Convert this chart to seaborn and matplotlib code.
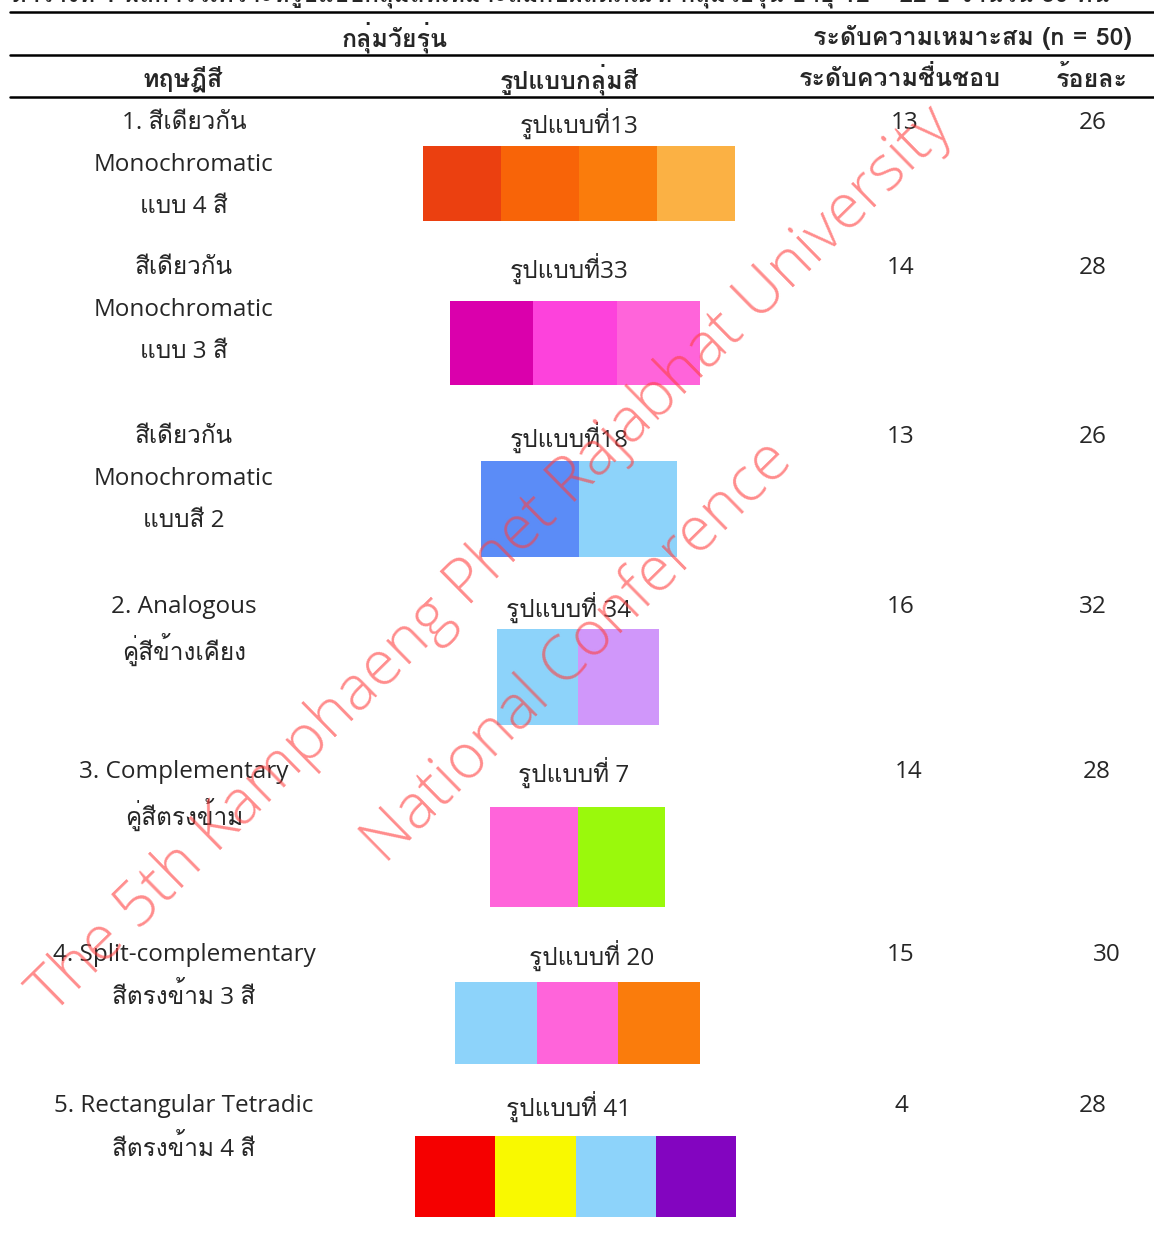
import numpy as np
import pandas as pd
import matplotlib
matplotlib.use("Agg")
import matplotlib.pyplot as plt
import seaborn as sns
from matplotlib import font_manager

# ข้อมูลตาราง
theory = [["1. สีเดียวกัน", "Monochromatic", "แบบ 4 สี"],
          ["สีเดียวกัน", "Monochromatic", "แบบ 3 สี"],
          ["สีเดียวกัน", "Monochromatic", "แบบสี 2"],
          ["2. Analogous", "คู่สีข้างเคียง"],
          ["3. Complementary", "คู่สีตรงข้าม"],
          ["4. Split-complementary", "สีตรงข้าม 3 สี"],
          ["5. Rectangular Tetradic", "สีตรงข้าม 4 สี"]]
pattern = ["รูปแบบที่13", "รูปแบบที่33", "รูปแบบที่18", "รูปแบบที่ 34",
           "รูปแบบที่ 7", "รูปแบบที่ 20", "รูปแบบที่ 41"]
liking = [13, 14, 13, 16, 14, 15, 4]
percent = [26, 28, 26, 32, 28, 30, 28]
swatches = [["#EB4010", "#F86408", "#FA7C0C", "#FBB144"],
            ["#DA00AC", "#FD42DC", "#FF64DA"],
            ["#5B8CF7", "#8DD3FA"],
            ["#8DD3FA", "#D097FA"],
            ["#FF64DA", "#9AF90C"],
            ["#8DD3FA", "#FF64DA", "#FA7C0C"],
            ["#F50000", "#F9F900", "#8DD3FA", "#8305C0"]]

# layout (pixels)
row_top = [123, 268, 437, 607, 772, 955, 1106]
pat_x = [579, 569, 569, 569, 574, 592, 569]
lik_x = [905, 901, 901, 901, 909, 901, 901]
pct_x = [1093, 1093, 1093, 1093, 1097, 1107, 1093]
box = [(423, 735, 146, 221), (450, 700, 301, 385), (481, 677, 461, 557),
       (497, 659, 629, 725), (490, 665, 807, 907), (455, 700, 982, 1064),
       (415, 736, 1136, 1217)]


def thai_family():
    try:
        from fontTools.ttLib import TTFont
    except Exception:
        return None
    for f in font_manager.fontManager.ttflist:
        try:
            tt = TTFont(f.fname, fontNumber=0, lazy=True)
            if 0x0E01 in tt.getBestCmap():
                return f.name
        except Exception:
            pass
    return None


sns.set_theme(style="white")
th = thai_family()
thai = [th] if th else []
plt.rcParams["font.family"] = thai + ["DejaVu Sans"]
body = ["Open Sans"] + thai + ["DejaVu Sans"]

fig = plt.figure(figsize=(11.54, 12.34), dpi=100)
ax = fig.add_axes([0, 0, 1, 1])
ax.set_xlim(0, 1154)
ax.set_ylim(1234, 0)
ax.axis("off")

fs = 17.5
# caption (cut at top, as in the source)
ax.text(560, -8, "ตารางที่ 1 ผลการวิเคราะห์รูปแบบกลุ่มสีที่เหมาะสมกับผลิตภัณฑ์ กลุ่มวัยรุ่น อายุ 12 – 22 ปี จำนวน 50 คน",
        ha="center", va="center", fontsize=fs, fontweight="bold")
for yy in [12, 55, 97]:
    ax.plot([10, 1154], [yy, yy], color="black", lw=1.8)

ax.text(395, 37, "กลุ่มวัยรุ่น", ha="center", va="center", fontsize=18, fontweight="bold")
ax.text(972, 37, "ระดับความเหมาะสม (n = 50)", ha="center", va="center", fontsize=18, fontweight="bold")
for x, s in zip([183, 569, 900, 1092], ["ทฤษฎีสี", "รูปแบบกลุ่มสี", "ระดับความชื่นชอบ", "ร้อยละ"]):
    ax.text(x, 79, s, ha="center", va="center", fontsize=18, fontweight="bold")

for i in range(len(pattern)):
    y0 = row_top[i]
    for j, line in enumerate(theory[i]):
        ax.text(184, y0 + j * 42, line, ha="center", va="center", fontsize=fs, family=body)
    ax.text(pat_x[i], y0, pattern[i], ha="center", va="center", fontsize=fs, family=body)
    ax.text(lik_x[i], y0, str(liking[i]), ha="center", va="center", fontsize=fs, family=body)
    ax.text(pct_x[i], y0, str(percent[i]), ha="center", va="center", fontsize=fs, family=body)
    # swatches
    l, r, t, b = box[i]
    n = len(swatches[i])
    w = (r - l) / n
    lefts = l + w * np.arange(n)
    ax.barh([(t + b) / 2] * n, [w] * n, left=lefts, height=b - t,
            color=swatches[i], edgecolor="none")

# watermark
wm = dict(color="#FF4040", alpha=0.6, fontsize=45, rotation=44.5,
          rotation_mode="anchor", ha="center", va="center",
          family=["Open Sans", "DejaVu Sans"], fontweight="light")
ax.text(492, 560, "The 5th Kamphaeng Phet Rajabhat University", **wm)
ax.text(578, 652, "National Conference", **wm)

fig.savefig("out.png", dpi=100)
